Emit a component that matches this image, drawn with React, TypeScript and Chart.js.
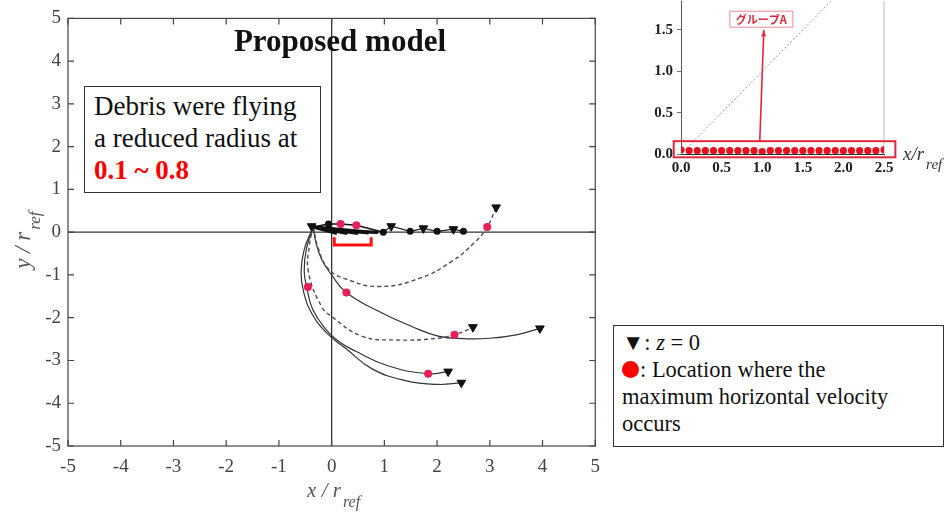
import React, { useEffect, useRef } from "react";
import { Chart, registerables } from "chart.js";
Chart.register(...registerables);

const FONT = "'Liberation Serif', 'Times New Roman', Times, serif";

// ---------- main chart axes ----------
const xTicks = [-5, -4, -3, -2, -1, 0, 1, 2, 3, 4, 5];
const yTicks = [-5, -4, -3, -2, -1, 0, 1, 2, 3, 4, 5];

// ---------- trajectories (x / r_ref, y / r_ref) ----------
const trajA = [[-0.35, 0.12], [-0.25, -0.39], [-0.06, -0.86], [0.26, -1.09], [0.89, -1.27], [1.64, -1.09], [2.27, -0.69], [2.72, -0.23], [2.95, 0.12], [3.12, 0.58]];
const trajB = [[-0.35, 0.12], [-0.3, -0.23], [-0.19, -0.63], [0.0, -1.0], [0.28, -1.41], [0.89, -1.85], [1.51, -2.2], [2.02, -2.43], [2.5, -2.49], [3.0, -2.48], [3.5, -2.4], [3.95, -2.25]];
const trajC = [[-0.35, 0.12], [-0.42, -0.3], [-0.44, -0.93], [-0.19, -1.74], [0.0, -1.97], [0.57, -2.43], [1.21, -2.52], [2.02, -2.48], [2.33, -2.39], [2.53, -2.31], [2.68, -2.22]];
const trajD = [[-0.35, 0.12], [-0.48, -0.4], [-0.52, -0.9], [-0.47, -1.3], [-0.36, -1.8], [-0.11, -2.27], [0.13, -2.55], [0.45, -2.78], [1.08, -3.13], [1.83, -3.31], [2.21, -3.26]];
const trajE = [[-0.35, 0.12], [-0.52, -0.4], [-0.58, -0.95], [-0.53, -1.4], [-0.4, -1.85], [-0.1, -2.35], [0.26, -2.71], [0.76, -3.19], [1.4, -3.47], [2.02, -3.56], [2.46, -3.52]];
const dashedTrajs = [trajA, trajC];
const solidTrajs = [trajB, trajD, trajE];

// short flights close to y = 0
const fanLines = [
  [[-0.35, 0.12], [0.1, -0.03]],
  [[-0.35, 0.12], [0.3, -0.03]],
  [[-0.35, 0.12], [0.5, -0.03]],
  [[-0.35, 0.12], [0.7, -0.02]],
  [[-0.35, 0.12], [0.88, -0.01]],
  [[0.05, 0.02], [0.85, 0.0]],
];
const topEdge = [[-0.35, 0.12], [-0.06, 0.19], [0.17, 0.19], [0.47, 0.16], [0.98, 0.0]];
const zigzag = [[0.98, 0.0], [1.13, 0.14], [1.49, 0.02], [1.74, 0.09], [2.0, 0.02], [2.31, 0.07], [2.5, 0.02]];

const zeroTriangles = [[3.12, 0.58], [3.95, -2.25], [2.68, -2.22], [2.21, -3.26], [2.46, -3.52], [-0.38, 0.14], [1.13, 0.14], [1.74, 0.09], [2.31, 0.07]];
const maxVelDots = [[2.95, 0.12], [0.28, -1.41], [2.33, -2.4], [1.83, -3.31], [-0.45, -1.28], [0.17, 0.19], [0.47, 0.16]];
const blackDots = [[-0.06, 0.19], [0.98, 0.0], [1.49, 0.02], [2.0, 0.02], [2.5, 0.02]];

const bracketX = [0.05, 0.75];
const bracketY = [-0.12, -0.3];

// ---------- inset chart ----------
const insetX = [0.0, 0.1, 0.2, 0.3, 0.4, 0.5, 0.6, 0.7, 0.8, 0.9, 1.0, 1.1, 1.2, 1.3, 1.4, 1.5, 1.6, 1.7, 1.8, 1.9, 2.0, 2.1, 2.2, 2.3, 2.4, 2.5];
const insetY = [0.05, 0.04, 0.04, 0.04, 0.04, 0.04, 0.04, 0.04, 0.04, 0.04, 0.03, 0.04, 0.04, 0.04, 0.04, 0.04, 0.04, 0.04, 0.04, 0.04, 0.04, 0.04, 0.04, 0.04, 0.04, 0.05];
const insetXTicks = [0, 0.5, 1.0, 1.5, 2.0, 2.5];
const insetYTicks = [0, 0.5, 1.0, 1.5];
const diagonal = [[0, 0], [2.5, 2.5]];
const groupBoxX = [-0.09, 2.64];
const groupBoxY = [-0.04, 0.155];
const arrowFrom = [0.97, 0.155];
const arrowTo = [1.02, 1.5];
const groupLabelAt = [0.99, 1.63];
const groupLabel = "グループA";

const pts = (a: number[][]) => a.map(([x, y]) => ({ x, y }));

function drawSubLabel(ctx: CanvasRenderingContext2D, main: string, sub: string, size: number, subSize: number, measureOnly = false) {
  ctx.font = `italic ${size}px ${FONT}`;
  const w = ctx.measureText(main).width;
  ctx.font = `italic ${subSize}px ${FONT}`;
  const ws = ctx.measureText(sub).width;
  if (measureOnly) return w + 2 + ws;
  ctx.textAlign = "left";
  ctx.textBaseline = "alphabetic";
  ctx.font = `italic ${size}px ${FONT}`;
  ctx.fillText(main, 0, 0);
  ctx.font = `italic ${subSize}px ${FONT}`;
  ctx.fillText(sub, w + 2, subSize * 0.6);
  return w + 2 + ws;
}

const mainPlugin = {
  id: "mainDeco",
  beforeDatasetsDraw(chart: any) {
    const { ctx, chartArea: a, scales } = chart;
    const x0 = scales.x.getPixelForValue(0);
    const y0 = scales.y.getPixelForValue(0);
    ctx.save();
    ctx.strokeStyle = "#333";
    ctx.lineWidth = 1.3;
    ctx.beginPath();
    ctx.moveTo(x0, a.top);
    ctx.lineTo(x0, a.bottom);
    ctx.moveTo(a.left, y0);
    ctx.lineTo(a.right, y0);
    ctx.stroke();
    ctx.restore();
  },
  afterDatasetsDraw(chart: any) {
    const { ctx, scales } = chart;
    const px = (v: number) => scales.x.getPixelForValue(v);
    const py = (v: number) => scales.y.getPixelForValue(v);
    ctx.save();
    ctx.strokeStyle = "#ff1010";
    ctx.lineWidth = 3;
    ctx.beginPath();
    ctx.moveTo(px(bracketX[0]), py(bracketY[0]));
    ctx.lineTo(px(bracketX[0]), py(bracketY[1]));
    ctx.lineTo(px(bracketX[1]), py(bracketY[1]));
    ctx.lineTo(px(bracketX[1]), py(bracketY[0]));
    ctx.stroke();
    ctx.restore();
  },
  afterDraw(chart: any) {
    const { ctx, chartArea: a, scales } = chart;
    ctx.save();
    ctx.strokeStyle = "#444";
    ctx.lineWidth = 1.2;
    ctx.strokeRect(a.left, a.top, a.right - a.left, a.bottom - a.top);
    ctx.beginPath();
    for (const v of xTicks) {
      const p = scales.x.getPixelForValue(v);
      ctx.moveTo(p, a.bottom);
      ctx.lineTo(p, a.bottom - 6);
      ctx.moveTo(p, a.top);
      ctx.lineTo(p, a.top + 6);
    }
    for (const v of yTicks) {
      const p = scales.y.getPixelForValue(v);
      ctx.moveTo(a.left, p);
      ctx.lineTo(a.left + 6, p);
      ctx.moveTo(a.right, p);
      ctx.lineTo(a.right - 6, p);
    }
    ctx.stroke();

    ctx.fillStyle = "#555";
    // x title
    const wx = drawSubLabel(ctx, "x / r", "ref", 21, 16, true) as number;
    ctx.save();
    ctx.translate((a.left + a.right) / 2 - wx / 2 + 2, 497);
    drawSubLabel(ctx, "x / r", "ref", 21, 16);
    ctx.restore();
    // y title
    const wy = drawSubLabel(ctx, "y / r", "ref", 23, 17, true) as number;
    ctx.save();
    ctx.translate(30, (a.top + a.bottom) / 2 + wy / 2 + 8);
    ctx.rotate(-Math.PI / 2);
    drawSubLabel(ctx, "y / r", "ref", 23, 17);
    ctx.restore();
    ctx.restore();
  },
};

function mainConfig(): any {
  const datasets: any[] = [];
  datasets.push({
    data: pts(zeroTriangles),
    pointStyle: "triangle",
    rotation: 180,
    pointRadius: 5,
    backgroundColor: "#111",
    borderColor: "#111",
    borderWidth: 1,
    showLine: false,
  });
  datasets.push({
    data: pts(maxVelDots),
    pointStyle: "circle",
    pointRadius: 4,
    backgroundColor: "#e8205a",
    borderColor: "#e8205a",
    borderWidth: 0,
    showLine: false,
  });
  datasets.push({
    data: pts(blackDots),
    pointStyle: "circle",
    pointRadius: 3.5,
    backgroundColor: "#111",
    borderColor: "#111",
    borderWidth: 0,
    showLine: false,
  });
  for (const t of dashedTrajs) {
    datasets.push({
      data: pts(t),
      showLine: true,
      pointRadius: 0,
      borderColor: "#4a4a66",
      borderWidth: 1.4,
      borderDash: [4, 3],
      tension: 0.45,
      fill: false,
    });
  }
  for (const t of solidTrajs) {
    datasets.push({
      data: pts(t),
      showLine: true,
      pointRadius: 0,
      borderColor: "#333",
      borderWidth: 1.2,
      tension: 0.45,
      fill: false,
    });
  }
  for (const f of fanLines) {
    datasets.push({ data: pts(f), showLine: true, pointRadius: 0, borderColor: "#111", borderWidth: 3, tension: 0 });
  }
  datasets.push({ data: pts(topEdge), showLine: true, pointRadius: 0, borderColor: "#111", borderWidth: 1.5, tension: 0 });
  datasets.push({ data: pts(zigzag), showLine: true, pointRadius: 0, borderColor: "#222", borderWidth: 1.2, tension: 0 });

  const tickFont = { family: FONT, size: 19 };
  return {
    type: "scatter",
    data: { datasets },
    options: {
      responsive: false,
      animation: false,
      events: [],
      layout: { padding: { top: 14, right: 13, left: 0, bottom: 0 } },
      plugins: { legend: { display: false }, tooltip: { enabled: false } },
      scales: {
        x: {
          type: "linear",
          min: -5,
          max: 5,
          afterBuildTicks: (s: any) => { s.ticks = xTicks.map((v) => ({ value: v })); },
          afterFit: (s: any) => { s.height = 68; },
          grid: { display: false, drawTicks: false },
          border: { display: false },
          ticks: { font: tickFont, color: "#444", padding: 10, autoSkip: false, maxRotation: 0, callback: (v: any) => String(v) },
        },
        y: {
          type: "linear",
          min: -5,
          max: 5,
          afterBuildTicks: (s: any) => { s.ticks = yTicks.map((v) => ({ value: v })); },
          afterFit: (s: any) => { s.width = 68; },
          grid: { display: false, drawTicks: false },
          border: { display: false },
          ticks: { font: tickFont, color: "#444", padding: 7, autoSkip: false, callback: (v: any) => String(v) },
        },
      },
    },
    plugins: [mainPlugin],
  };
}

const insetPlugin = {
  id: "insetDeco",
  beforeDatasetsDraw(chart: any) {
    const { ctx, chartArea: a, scales } = chart;
    const xr = scales.x.getPixelForValue(2.5);
    ctx.save();
    ctx.strokeStyle = "#bbb";
    ctx.lineWidth = 1;
    ctx.beginPath();
    ctx.moveTo(xr, a.top);
    ctx.lineTo(xr, a.bottom);
    ctx.stroke();
    ctx.restore();
  },
  afterDraw(chart: any) {
    const { ctx, chartArea: a, scales } = chart;
    const px = (v: number) => scales.x.getPixelForValue(v);
    const py = (v: number) => scales.y.getPixelForValue(v);
    ctx.save();
    // group box
    ctx.strokeStyle = "#e0283c";
    ctx.lineWidth = 2;
    const bx0 = px(groupBoxX[0]), bx1 = px(groupBoxX[1]);
    const by0 = py(groupBoxY[1]), by1 = py(groupBoxY[0]);
    ctx.strokeRect(bx0, by0, bx1 - bx0, by1 - by0);
    // arrow
    const ax0 = px(arrowFrom[0]), ay0 = py(arrowFrom[1]);
    const ax1 = px(arrowTo[0]), ay1 = py(arrowTo[1]);
    ctx.lineWidth = 1.6;
    ctx.beginPath();
    ctx.moveTo(ax0, ay0);
    ctx.lineTo(ax1, ay1);
    ctx.stroke();
    const ang = Math.atan2(ay1 - ay0, ax1 - ax0);
    ctx.fillStyle = "#e0283c";
    ctx.beginPath();
    ctx.moveTo(ax1, ay1);
    ctx.lineTo(ax1 - 7 * Math.cos(ang - 0.35), ay1 - 7 * Math.sin(ang - 0.35));
    ctx.lineTo(ax1 - 7 * Math.cos(ang + 0.35), ay1 - 7 * Math.sin(ang + 0.35));
    ctx.closePath();
    ctx.fill();
    // label box
    const lx = px(groupLabelAt[0]), ly = py(groupLabelAt[1]);
    ctx.font = `bold 11px 'Noto Sans CJK JP', sans-serif`;
    const tw = ctx.measureText(groupLabel).width;
    ctx.fillStyle = "#fff";
    ctx.fillRect(lx - tw / 2 - 6, ly - 8, tw + 12, 16);
    ctx.strokeStyle = "#ef8a98";
    ctx.lineWidth = 1;
    ctx.strokeRect(lx - tw / 2 - 6, ly - 8, tw + 12, 16);
    ctx.fillStyle = "#e0283c";
    ctx.textAlign = "center";
    ctx.textBaseline = "middle";
    ctx.fillText(groupLabel, lx, ly + 1);
    // axis label
    ctx.fillStyle = "#333";
    ctx.translate(a.right + 19, a.bottom + 6);
    drawSubLabel(ctx, "x/r", "ref", 19, 15);
    ctx.restore();
  },
};

function insetConfig(): any {
  const dots = insetX.map((x, i) => ({ x, y: insetY[i] }));
  const tickFont = { family: FONT, size: 15, weight: "bold" as const };
  return {
    type: "scatter",
    data: {
      datasets: [
        { data: dots, pointRadius: 3.6, backgroundColor: "#e8101e", borderWidth: 0, showLine: false },
        { data: pts(diagonal), showLine: true, pointRadius: 0, borderColor: "#8e9cc0", borderWidth: 1, borderDash: [2, 2] },
      ],
    },
    options: {
      responsive: false,
      animation: false,
      events: [],
      layout: { padding: { top: 0, right: 62, left: 0, bottom: 0 } },
      plugins: { legend: { display: false }, tooltip: { enabled: false } },
      scales: {
        x: {
          type: "linear",
          min: 0,
          max: 2.5,
          afterBuildTicks: (s: any) => { s.ticks = insetXTicks.map((v) => ({ value: v })); },
          afterFit: (s: any) => { s.height = 36; },
          grid: { display: false, drawTicks: false },
          border: { display: true, color: "#333", width: 1 },
          ticks: { font: tickFont, color: "#222", padding: 5, autoSkip: false, maxRotation: 0, callback: (v: any) => Number(v).toFixed(1) },
        },
        y: {
          type: "linear",
          min: 0,
          max: 1.85,
          afterBuildTicks: (s: any) => { s.ticks = insetYTicks.map((v) => ({ value: v })); },
          afterFit: (s: any) => { s.width = 81; },
          grid: { display: true, drawOnChartArea: false, drawTicks: true, tickLength: 4, color: "#777" },
          border: { display: true, color: "#555", width: 1 },
          ticks: { font: tickFont, color: "#222", padding: 4, autoSkip: false, callback: (v: any) => Number(v).toFixed(1) },
        },
      },
    },
    plugins: [insetPlugin],
  };
}

export default function App() {
  const mainRef = useRef<HTMLCanvasElement>(null);
  const insetRef = useRef<HTMLCanvasElement>(null);
  useEffect(() => {
    const main = new Chart(mainRef.current as HTMLCanvasElement, mainConfig());
    const inset = new Chart(insetRef.current as HTMLCanvasElement, insetConfig());
    return () => {
      main.destroy();
      inset.destroy();
    };
  }, []);

  return (
    <div style={{ position: "fixed", left: 0, top: 0, width: 946, height: 514, background: "#fff", overflow: "hidden", fontFamily: FONT, color: "#111" }}>
      <canvas ref={mainRef} width={610} height={514} style={{ position: "absolute", left: 0, top: 0, width: 610, height: 514 }} />
      <canvas ref={insetRef} width={346} height={202} style={{ position: "absolute", left: 600, top: -12, width: 346, height: 202 }} />
      <div style={{ position: "absolute", left: 190, top: 23, width: 300, textAlign: "center", fontWeight: "bold", fontSize: 31, lineHeight: "36px", whiteSpace: "nowrap" }}>
        Proposed model
      </div>
      <div style={{ position: "absolute", left: 84, top: 86, width: 237, height: 107, boxSizing: "border-box", border: "1px solid #333", background: "#fff", padding: "3px 0 0 9px", fontSize: 27, lineHeight: "32px", whiteSpace: "nowrap" }}>
        <div>Debris were flying</div>
        <div>a reduced radius at</div>
        <div style={{ color: "#ff0000", fontWeight: "bold" }}>0.1 ~ 0.8</div>
      </div>
      <div style={{ position: "absolute", left: 613, top: 325, width: 331, height: 122, boxSizing: "border-box", border: "1px solid #333", background: "#fff", padding: "3px 0 0 8px", fontSize: 22.5, lineHeight: "27px", whiteSpace: "nowrap" }}>
        <div>▼: <i>z</i> = 0</div>
        <div>
          <span style={{ display: "inline-block", width: 17, height: 17, borderRadius: "50%", background: "#ff0000", verticalAlign: "-1px", marginRight: 1 }} />
          : Location where the
        </div>
        <div>maximum horizontal velocity</div>
        <div>occurs</div>
      </div>
    </div>
  );
}
